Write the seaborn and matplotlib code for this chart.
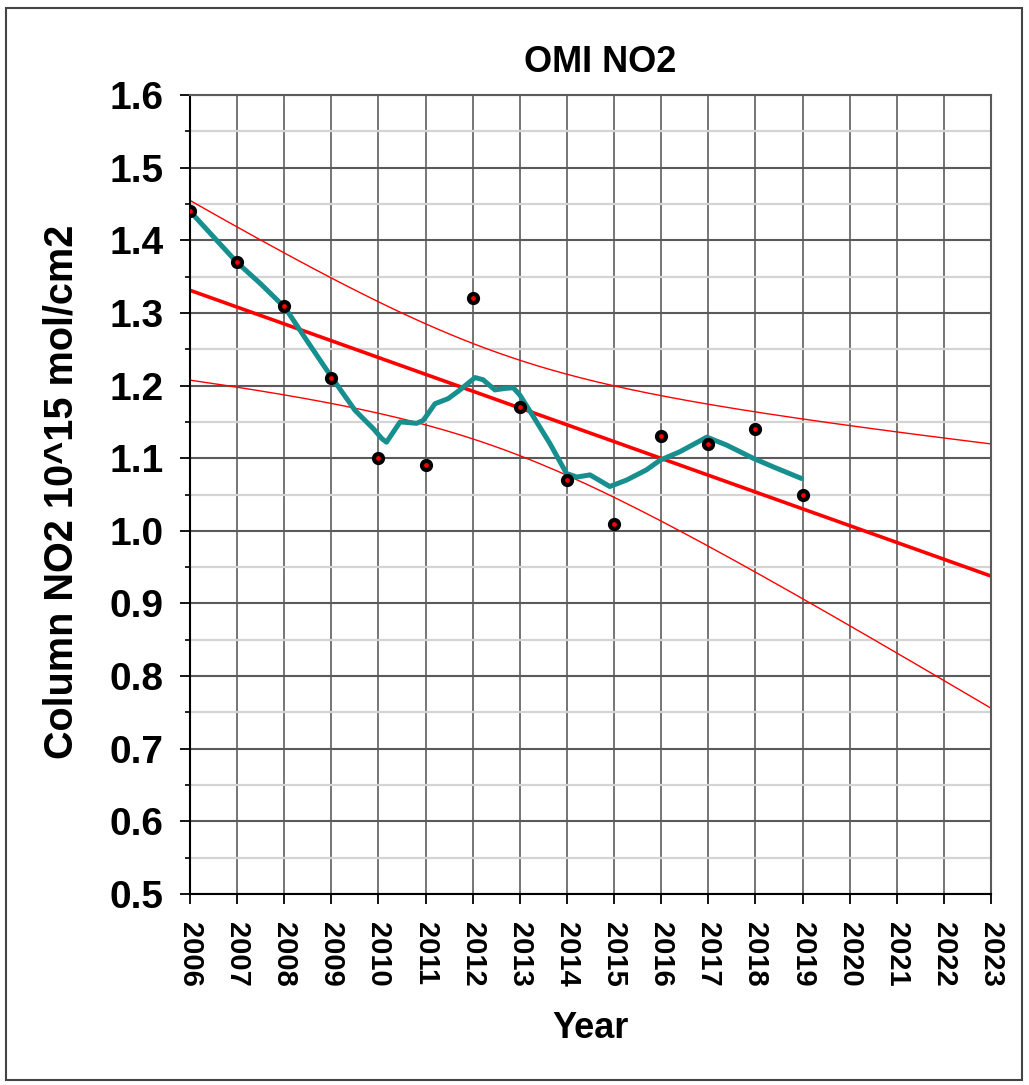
import numpy as np
import pandas as pd
import matplotlib
matplotlib.use('Agg')
import matplotlib.pyplot as plt
import seaborn as sns
from matplotlib.patches import Rectangle
from matplotlib.ticker import MultipleLocator

# annual OMI NO2 column values
years = [2006, 2007, 2008, 2009, 2010, 2011, 2012, 2013, 2014, 2015, 2016, 2017, 2018, 2019]
no2 = [1.44, 1.37, 1.31, 1.21, 1.10, 1.09, 1.32, 1.17, 1.07, 1.01, 1.13, 1.12, 1.14, 1.05]

# smoothed curve
smooth_x = [2006.00, 2006.99, 2007.50, 2008.02, 2008.51, 2009.00, 2009.50, 2009.90, 2010.07,
            2010.17, 2010.46, 2010.81, 2010.95, 2011.20, 2011.48, 2011.73, 2012.05, 2012.22,
            2012.47, 2012.68, 2012.86, 2013.00, 2013.29, 2013.64, 2013.99, 2014.21, 2014.49,
            2014.91, 2015.27, 2015.69, 2015.97, 2016.40, 2016.97, 2017.39, 2017.95, 2018.38,
            2018.98]
smooth_y = [1.440, 1.370, 1.340, 1.307, 1.259, 1.212, 1.166, 1.140, 1.127,
            1.122, 1.150, 1.148, 1.152, 1.175, 1.182, 1.194, 1.211, 1.208,
            1.194, 1.196, 1.197, 1.187, 1.157, 1.120, 1.079, 1.074, 1.077,
            1.061, 1.070, 1.084, 1.097, 1.109, 1.129, 1.118, 1.100, 1.088,
            1.072]

year_ticks = list(range(2006, 2024))
t_value = 2.68  # band width factor

# linear fit and confidence band
x = np.array(years, dtype=float)
y = np.array(no2)
slope, intercept = np.polyfit(x, y, 1)
n = len(x)
resid = y - (slope * x + intercept)
s = np.sqrt((resid ** 2).sum() / (n - 2))
sxx = ((x - x.mean()) ** 2).sum()
xf = np.linspace(2006, 2023, 200)
yf = slope * xf + intercept
half = t_value * s * np.sqrt(1 / n + (xf - x.mean()) ** 2 / sxx)
fit = pd.DataFrame({'year': xf, 'fit': yf, 'upper': yf + half, 'lower': yf - half})

sns.set_style('white')
plt.rcParams['font.family'] = ['Liberation Sans', 'DejaVu Sans']
plt.rcParams['font.weight'] = 'bold'
plt.rcParams['text.color'] = 'black'
plt.rcParams['xtick.color'] = 'black'
plt.rcParams['ytick.color'] = 'black'

fig = plt.figure(figsize=(10.29, 10.85), dpi=100)
ax = fig.add_axes([190 / 1029, 1 - 894 / 1085, (991 - 190) / 1029, (894 - 95) / 1085])

# grid
ax.set_xlim(2006, 2023)
ax.set_ylim(0.5, 1.6)
ax.xaxis.set_major_locator(MultipleLocator(1))
ax.yaxis.set_major_locator(MultipleLocator(0.1))
ax.yaxis.set_minor_locator(MultipleLocator(0.05))
ax.grid(which='minor', axis='y', color='#d4d4d4', linewidth=1.6, zorder=0)
ax.grid(which='major', axis='y', color='#5a5a5a', linewidth=1.5, zorder=0)
ax.grid(which='major', axis='x', color='#6a6a6a', linewidth=1.3, zorder=0)
ax.set_axisbelow(True)

sns.lineplot(data=fit, x='year', y='upper', color='red', linewidth=1.0, ax=ax)
sns.lineplot(data=fit, x='year', y='lower', color='red', linewidth=1.0, ax=ax)
sns.lineplot(data=fit, x='year', y='fit', color='red', linewidth=2.6, ax=ax)
sns.lineplot(x=smooth_x, y=smooth_y, color='#178f8f', linewidth=3.6, ax=ax,
             sort=False, solid_joinstyle='round', solid_capstyle='round')
ax.plot(years, no2, linestyle='none', marker='o', markersize=6.5, markerfacecolor='red',
        markeredgecolor='black', markeredgewidth=3.0, zorder=5)

ax.set_xticks(year_ticks)
ax.set_xticklabels([str(v) for v in year_ticks], rotation=-90, fontsize=21, fontweight='bold')
ax.set_yticks(np.round(np.arange(0.5, 1.61, 0.1), 1))
ax.set_yticklabels(['%.1f' % v for v in np.arange(0.5, 1.61, 0.1)], fontsize=28, fontweight='bold')
ax.tick_params(axis='x', which='major', direction='out', length=7, width=1.3, pad=13, bottom=True)
ax.tick_params(axis='y', which='major', direction='out', length=7, width=1.3, pad=12, left=True)
ax.tick_params(axis='y', which='minor', direction='out', length=3.5, width=1.2, left=True)
ax.set_xlabel('')
ax.set_ylabel('')

for side in ['left', 'bottom']:
    ax.spines[side].set_color('black')
    ax.spines[side].set_linewidth(1.5)
for side in ['top', 'right']:
    ax.spines[side].set_color('#5a5a5a')
    ax.spines[side].set_linewidth(1.5)

fig.text(600 / 1029, 1 - 62 / 1085, 'OMI NO2', ha='center', va='center', fontsize=26, fontweight='bold')
fig.text(591 / 1029, 1 - 1028 / 1085, 'Year', ha='center', va='center', fontsize=26, fontweight='bold')
fig.text(62 / 1029, 1 - 492 / 1085, 'Column NO2 10^15 mol/cm2', ha='center', va='center',
         rotation=90, fontsize=28.5, fontweight='bold')

# outer frame
fig.patches.append(Rectangle((6 / 1029, 1 - 1080 / 1085), (1022 - 6) / 1029, (1080 - 8) / 1085,
                             transform=fig.transFigure, fill=False, edgecolor='#444444', linewidth=1.5))

fig.savefig('out.png', dpi=100)
